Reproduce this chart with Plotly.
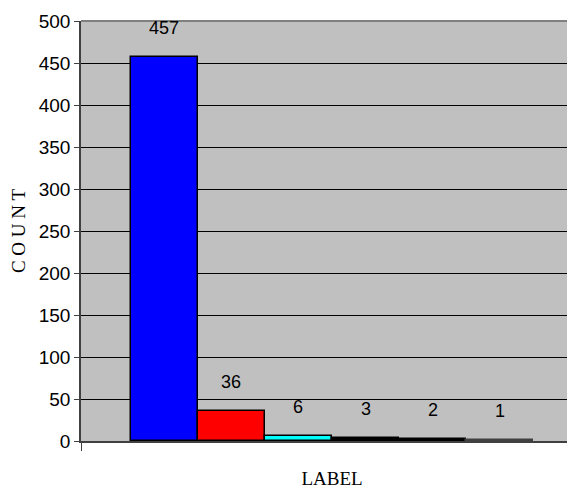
import plotly.graph_objects as go

# Data
series_names = ["Series 1", "Series 2", "Series 3", "Series 4", "Series 5", "Series 6"]
counts = [457, 36, 6, 3, 2, 1]
bar_colors = ["#0000FF", "#FF0000", "#00FFFF", "#000000", "#000000", "#808080"]
edge_colors = ["#000000", "#000000", "#000000", "#000000", "#000000", "#404040"]
y_ticks = [0, 50, 100, 150, 200, 250, 300, 350, 400, 450, 500]

idx = list(range(len(counts)))
x_lo, x_hi = -1.242, 6.243

fig = go.Figure()
fig.add_trace(go.Bar(
    x=idx, y=counts, width=1,
    marker=dict(color=bar_colors, line=dict(color=edge_colors, width=1.5)),
    hovertext=series_names, showlegend=False,
))

for i, v in zip(idx, counts):
    fig.add_annotation(x=i, y=v, text=str(v), showarrow=False, yanchor="middle",
                       yshift=29, font=dict(family="Liberation Sans, Arial", size=18, color="#000"))

fig.add_shape(type="line", xref="paper", yref="paper", x0=0, x1=1, y0=1, y1=1,
              line=dict(color="#808080", width=2))

fig.update_layout(
    width=575, height=489,
    margin=dict(l=73, r=0, t=13, b=56),
    plot_bgcolor="#C0C0C0", paper_bgcolor="#FFFFFF",
    bargap=0,
    xaxis=dict(range=[x_lo, x_hi], showgrid=False, zeroline=False, automargin=False,
               showline=True, linecolor="#404040", linewidth=1.5,
               tickvals=[x_lo], ticks="outside", ticklen=8, tickcolor="#404040",
               showticklabels=False,
               title=dict(text="LABEL", standoff=22,
                          font=dict(family="Liberation Serif, Times New Roman, serif", size=19, color="#000"))),
    yaxis=dict(range=[0, 500], tickvals=y_ticks, showgrid=True, gridcolor="#000000", gridwidth=1,
               zeroline=False, showline=True, linecolor="#404040", linewidth=1.5, automargin=False,
               ticks="outside", ticklen=5, tickcolor="#404040",
               tickfont=dict(family="Liberation Sans, Arial", size=19, color="#000"),
               title=dict(text="C O U N T", standoff=10,
                          font=dict(family="Liberation Serif, Times New Roman, serif", size=19, color="#000"))),
)

fig.write_html("out.html")
